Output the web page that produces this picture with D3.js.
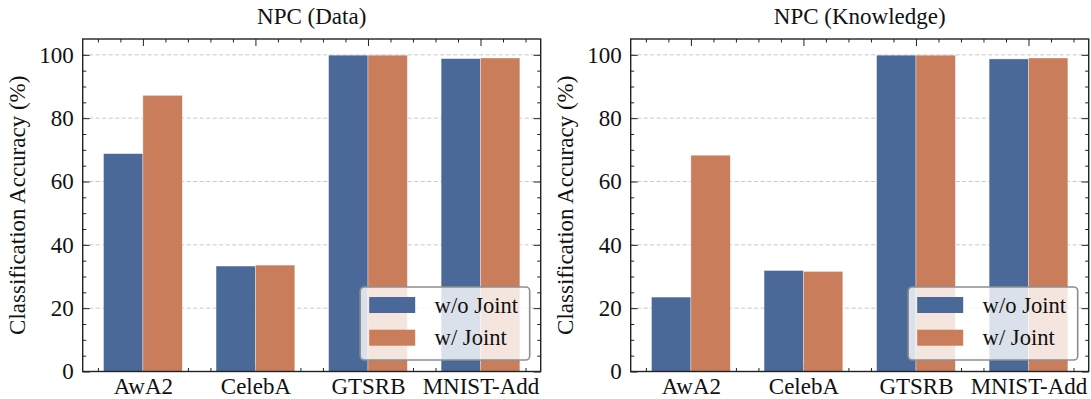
<!DOCTYPE html>
<html>
<head>
<meta charset="utf-8">
<script src="https://cdn.jsdelivr.net/npm/d3@7"></script>
<style>
  html, body { margin: 0; padding: 0; background: #fff; }
  svg { display: block; }
  text { font-family: "Liberation Serif", "Times New Roman", serif; fill: #111; }
</style>
</head>
<body>
<div id="chart"></div>
<script>
// ---- data ----
const categories = ["AwA2", "CelebA", "GTSRB", "MNIST-Add"];
const seriesNames = ["w/o Joint", "w/ Joint"];
const titles = ["NPC (Data)", "NPC (Knowledge)"];
const dataWithoutJoint = [68.8, 33.3, 99.9, 98.8];
const dataWithJoint = [87.2, 33.6, 99.9, 99.0];
const knowledgeWithoutJoint = [23.5, 31.9, 99.9, 98.7];
const knowledgeWithJoint = [68.3, 31.6, 99.9, 99.0];
const yTicks = [0, 20, 40, 60, 80, 100];
const yLabel = "Classification Accuracy (%)";

const panels = [
  { title: titles[0], wo: dataWithoutJoint, w: dataWithJoint },
  { title: titles[1], wo: knowledgeWithoutJoint, w: knowledgeWithJoint }
];

// ---- layout / style ----
const W = 1091, H = 399;
const colors = ["#4a6898", "#c97d5b"];
const axW = 458, axTop = 39, axBottom = 371.5;
const panelLeft = [82.7, 630.7];
const barW = 0.35;
const fontSize = 23;
const legendFont = 22.6;

const svg = d3.select("#chart").append("svg").attr("width", W).attr("height", H);

panels.forEach((p, pi) => {
  const g = svg.append("g").attr("transform", `translate(${panelLeft[pi]},0)`);
  const x = d3.scaleLinear().domain([-0.535, categories.length - 1 + 0.535]).range([0, axW]);
  const y = d3.scaleLinear().domain([0, 105]).range([axBottom, axTop]);

  // grid
  g.append("g").selectAll("line").data(yTicks.filter(t => t > 0)).join("line")
    .attr("x1", 0).attr("x2", axW)
    .attr("y1", d => y(d)).attr("y2", d => y(d))
    .attr("stroke", "#c8c8c8").attr("stroke-width", 1)
    .attr("stroke-dasharray", "4,2.5");

  const minorX = d3.range(-0.4, 3.5, 0.2).map(v => Math.round(v * 10) / 10).filter(v => Math.abs(v - Math.round(v)) > 1e-6);
  const minorY = d3.range(5, 105, 5).filter(v => v % 20 !== 0);

  function styleAxis(sel) {
    sel.select(".domain").remove();
    sel.selectAll(".tick line").attr("stroke", "#222").attr("stroke-width", 1);
    sel.selectAll("text").style("font-size", fontSize + "px").style("font-family", '"Liberation Serif", serif').attr("fill", "#111");
  }

  // bottom axis (major with labels)
  g.append("g").attr("transform", `translate(0,${axBottom})`)
    .call(d3.axisBottom(x).tickValues(d3.range(categories.length)).tickFormat(i => categories[i])
      .tickSizeInner(-7).tickSizeOuter(0).tickPadding(6.5))
    .call(styleAxis);
  g.append("g").attr("transform", `translate(0,${axBottom})`)
    .call(d3.axisBottom(x).tickValues(minorX).tickFormat("").tickSizeInner(-3.5).tickSizeOuter(0))
    .call(styleAxis);
  // top axis
  g.append("g").attr("transform", `translate(0,${axTop})`)
    .call(d3.axisTop(x).tickValues(d3.range(categories.length)).tickFormat("").tickSizeInner(-7).tickSizeOuter(0))
    .call(styleAxis);
  g.append("g").attr("transform", `translate(0,${axTop})`)
    .call(d3.axisTop(x).tickValues(minorX).tickFormat("").tickSizeInner(-3.5).tickSizeOuter(0))
    .call(styleAxis);
  // left axis
  g.append("g")
    .call(d3.axisLeft(y).tickValues(yTicks).tickFormat(d3.format("d")).tickSizeInner(-7).tickSizeOuter(0).tickPadding(9))
    .call(styleAxis);
  g.append("g")
    .call(d3.axisLeft(y).tickValues(minorY).tickFormat("").tickSizeInner(-3.5).tickSizeOuter(0))
    .call(styleAxis);
  // right axis
  g.append("g").attr("transform", `translate(${axW},0)`)
    .call(d3.axisRight(y).tickValues(yTicks).tickFormat("").tickSizeInner(-7).tickSizeOuter(0))
    .call(styleAxis);
  g.append("g").attr("transform", `translate(${axW},0)`)
    .call(d3.axisRight(y).tickValues(minorY).tickFormat("").tickSizeInner(-3.5).tickSizeOuter(0))
    .call(styleAxis);

  // bars
  const series = [p.wo, p.w];
  series.forEach((vals, si) => {
    g.append("g").selectAll("rect").data(vals).join("rect")
      .attr("x", (d, i) => x(i - barW + si * barW))
      .attr("width", x(barW) - x(0))
      .attr("y", d => y(d))
      .attr("height", d => y(0) - y(d))
      .attr("fill", colors[si])
      .attr("stroke", "#fff").attr("stroke-opacity", 0.6).attr("stroke-width", 0.6);
  });

  // frame
  g.append("rect").attr("x", 0).attr("y", axTop).attr("width", axW).attr("height", axBottom - axTop)
    .attr("fill", "none").attr("stroke", "#222").attr("stroke-width", 1.4);

  // title
  g.append("text").attr("x", axW / 2).attr("y", 24).attr("text-anchor", "middle")
    .style("font-size", fontSize + "px").text(p.title);

  // y label
  g.append("text")
    .attr("transform", `translate(${25 - 82.7},${(axTop + axBottom) / 2}) rotate(-90)`)
    .attr("text-anchor", "middle")
    .style("font-size", fontSize + "px").text(yLabel);

  // legend
  const lgW = 169.5, lgH = 73;
  const lgX = axW - 11 - lgW, lgY = 287;
  const lg = g.append("g").attr("transform", `translate(${lgX},${lgY})`);
  lg.append("rect").attr("width", lgW).attr("height", lgH).attr("rx", 4).attr("ry", 4)
    .attr("fill", "#fff").attr("fill-opacity", 0.8)
    .attr("stroke", "#8e8e8e").attr("stroke-width", 1.6);
  seriesNames.forEach((name, si) => {
    lg.append("rect").attr("x", 9).attr("y", 10 + si * 32.7).attr("width", 46).attr("height", 16)
      .attr("fill", colors[si]);
    lg.append("text").attr("x", 74.4).attr("y", 25.5 + si * 32.7)
      .style("font-size", legendFont + "px").text(name);
  });
});
</script>
</body>
</html>
